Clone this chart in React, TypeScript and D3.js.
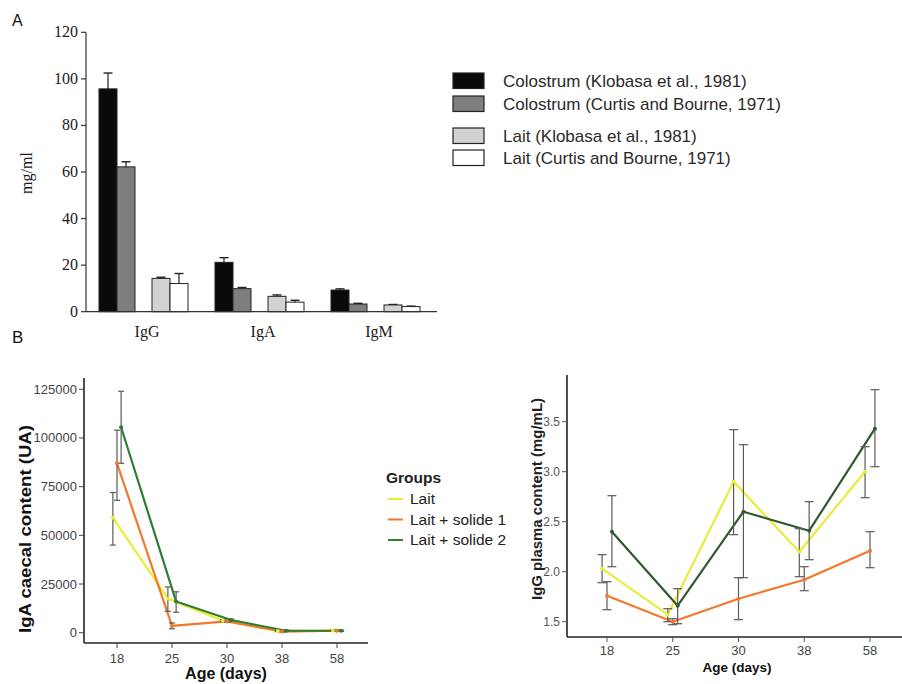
import React from "react";
import * as d3 from "d3";

// ---------- Panel A data ----------
const igTypes = ["IgG", "IgA", "IgM"];
const sourceNames = [
  "Colostrum (Klobasa et al., 1981)",
  "Colostrum (Curtis and Bourne, 1971)",
  "Lait (Klobasa et al., 1981)",
  "Lait (Curtis and Bourne, 1971)",
];
const colostrumKlobasa = [95.7, 21.2, 9.3];
const colostrumKlobasaUpper = [102.5, 23.2, 9.8];
const colostrumCurtis = [62.2, 9.9, 3.3];
const colostrumCurtisUpper = [64.4, 10.4, 3.6];
const laitKlobasa = [14.3, 6.6, 2.9];
const laitKlobasaUpper = [14.8, 7.2, 3.1];
const laitCurtis = [12.1, 4.1, 2.2];
const laitCurtisUpper = [16.4, 4.9, 2.4];
const yTicksA = [0, 20, 40, 60, 80, 100, 120];

// ---------- Panel B data ----------
const ages = ["18", "25", "30", "38", "58"];
const groupNames = ["Lait", "Lait + solide 1", "Lait + solide 2"];

const igaLait = [59000, 17500, 6200, 900, 1000];
const igaLaitLow = [45000, 11000, 5700, 600, 700];
const igaLaitHigh = [72000, 23500, 6700, 1200, 1300];
const igaSolide1 = [87000, 3500, 5800, 600, 1000];
const igaSolide1Low = [68000, 2000, 5300, 300, 700];
const igaSolide1High = [104000, 5000, 6300, 900, 1300];
const igaSolide2 = [105500, 16000, 6500, 1000, 1000];
const igaSolide2Low = [87000, 10500, 6000, 700, 700];
const igaSolide2High = [124000, 21000, 7000, 1300, 1300];
const yTicksIgA = [0, 25000, 50000, 75000, 100000, 125000];

const iggLait = [2.03, 1.57, 2.9, 2.2, 3.0];
const iggLaitLow = [1.89, 1.5, 2.37, 1.95, 2.74];
const iggLaitHigh = [2.17, 1.63, 3.42, 2.43, 3.25];
const iggSolide1 = [1.76, 1.5, 1.73, 1.92, 2.21];
const iggSolide1Low = [1.62, 1.47, 1.52, 1.81, 2.04];
const iggSolide1High = [1.9, 1.53, 1.94, 2.05, 2.4];
const iggSolide2 = [2.4, 1.66, 2.6, 2.41, 3.43];
const iggSolide2Low = [2.05, 1.48, 1.94, 2.12, 3.05];
const iggSolide2High = [2.76, 1.83, 3.27, 2.7, 3.82];
const yTicksIgG = [1.5, 2.0, 2.5, 3.0, 3.5];

const SANS = "'Liberation Sans', Arial, sans-serif";
const SERIF = "'Liberation Serif', 'Times New Roman', serif";

const barFills = ["#0a0a0a", "#7e7e7e", "#d2d2d2", "#ffffff"];
const lineColorsL = ["#ecec34", "#f2792c", "#2e7d32"];
const lineColorsR = ["#e8ec3a", "#f2792c", "#2f5a30"];

export default function App() {
  // ---------- Panel A ----------
  const yA = d3.scaleLinear().domain([0, 120]).range([311.7, 32.3]);
  const xA = d3.scaleBand<string>().domain(igTypes).range([99, 447]);
  const xPair = d3
    .scaleBand<string>()
    .domain(["Colostrum", "Lait"])
    .range([0, 89])
    .paddingInner(0.321);
  const xSrc = d3
    .scaleBand<string>()
    .domain(["Klobasa", "Curtis"])
    .range([0, xPair.bandwidth()]);

  const barSeries = [
    { values: colostrumKlobasa, upper: colostrumKlobasaUpper, pair: "Colostrum", src: "Klobasa" },
    { values: colostrumCurtis, upper: colostrumCurtisUpper, pair: "Colostrum", src: "Curtis" },
    { values: laitKlobasa, upper: laitKlobasaUpper, pair: "Lait", src: "Klobasa" },
    { values: laitCurtis, upper: laitCurtisUpper, pair: "Lait", src: "Curtis" },
  ];

  // ---------- Panel B left ----------
  const xL = d3.scalePoint<string>().domain(ages).range([117, 337]);
  const yL = d3.scaleLinear().domain([0, 125000]).range([632.7, 389.3]);
  const dodgeL = xL.step() * 0.075;
  const igaSeries = [
    { m: igaLait, lo: igaLaitLow, hi: igaLaitHigh },
    { m: igaSolide1, lo: igaSolide1Low, hi: igaSolide1High },
    { m: igaSolide2, lo: igaSolide2Low, hi: igaSolide2High },
  ];

  // ---------- Panel B right ----------
  const xR = d3.scalePoint<string>().domain(ages).range([607, 870]);
  const yR = d3.scaleLinear().domain([1.5, 3.5]).range([621.7, 421.7]);
  const dodgeR = xR.step() * 0.075;
  const iggSeries = [
    { m: iggLait, lo: iggLaitLow, hi: iggLaitHigh },
    { m: iggSolide1, lo: iggSolide1Low, hi: iggSolide1High },
    { m: iggSolide2, lo: iggSolide2Low, hi: iggSolide2High },
  ];

  const renderLinePanel = (
    series: { m: number[]; lo: number[]; hi: number[] }[],
    x: d3.ScalePoint<string>,
    y: d3.ScaleLinear<number, number>,
    dodge: number,
    colors: string[],
    cap: number
  ) => {
    const els: React.ReactNode[] = [];
    series.forEach((s, i) => {
      const off = (i - 1) * dodge;
      const line = d3
        .line<number>()
        .x((_, j) => (x(ages[j]) as number) + off)
        .y((d) => y(d));
      els.push(
        <path key={`l${i}`} d={line(s.m) || ""} fill="none" stroke={colors[i]} strokeWidth={2.2} strokeLinejoin="round" />
      );
    });
    series.forEach((s, i) => {
      const off = (i - 1) * dodge;
      s.m.forEach((_, j) => {
        const cx = (x(ages[j]) as number) + off;
        const y1 = y(s.lo[j]);
        const y2 = y(s.hi[j]);
        els.push(
          <g key={`e${i}-${j}`} stroke="#5a5a5a" strokeWidth={1.2}>
            <line x1={cx} x2={cx} y1={y1} y2={y2} />
            <line x1={cx - cap / 2} x2={cx + cap / 2} y1={y1} y2={y1} />
            <line x1={cx - cap / 2} x2={cx + cap / 2} y1={y2} y2={y2} />
          </g>
        );
      });
    });
    series.forEach((s, i) => {
      const off = (i - 1) * dodge;
      s.m.forEach((v, j) => {
        els.push(
          <circle key={`p${i}-${j}`} cx={(x(ages[j]) as number) + off} cy={y(v)} r={2} fill={colors[i]} />
        );
      });
    });
    return els;
  };

  return (
    <svg
      width={902}
      height={684}
      style={{ position: "absolute", left: 0, top: 0, background: "#fff" }}
    >
      <rect x={0} y={0} width={902} height={684} fill="#fff" />

      {/* ================= Panel A ================= */}
      <text x={12} y={26} fontFamily={SANS} fontSize={16} fill="#111">A</text>

      {/* y axis */}
      <line x1={86} x2={86} y1={yA(120)} y2={yA(0)} stroke="#333" strokeWidth={1.2} />
      {yTicksA.map((t) => (
        <g key={`ya${t}`}>
          <line x1={81} x2={86} y1={yA(t)} y2={yA(t)} stroke="#333" strokeWidth={1.2} />
          <text x={78} y={yA(t) + 5} textAnchor="end" fontFamily={SERIF} fontSize={16} fill="#1a1a1a">
            {t}
          </text>
        </g>
      ))}
      <text
        transform={`translate(32,173) rotate(-90)`}
        textAnchor="middle"
        fontFamily={SERIF}
        fontSize={16}
        fill="#1a1a1a"
      >
        mg/ml
      </text>

      {/* bars */}
      {barSeries.map((s, si) =>
        igTypes.map((g, gi) => {
          const bx = (xA(g) as number) + (xPair(s.pair) as number) + (xSrc(s.src) as number);
          const bw = xSrc.bandwidth();
          const cx = bx + bw / 2;
          return (
            <g key={`b${si}-${gi}`}>
              <line x1={cx} x2={cx} y1={yA(s.values[gi])} y2={yA(s.upper[gi])} stroke="#222" strokeWidth={1.2} />
              <line x1={cx - 4.5} x2={cx + 4.5} y1={yA(s.upper[gi])} y2={yA(s.upper[gi])} stroke="#222" strokeWidth={1.4} />
              <rect
                x={bx}
                y={yA(s.values[gi])}
                width={bw}
                height={yA(0) - yA(s.values[gi])}
                fill={barFills[si]}
                stroke="#222"
                strokeWidth={1}
              />
            </g>
          );
        })
      )}

      {/* x axis */}
      <line x1={86} x2={437} y1={yA(0)} y2={yA(0)} stroke="#333" strokeWidth={1.2} />
      {igTypes.map((g) => (
        <text
          key={`xa${g}`}
          x={(xA(g) as number) + 48}
          y={337}
          textAnchor="middle"
          fontFamily={SERIF}
          fontSize={16}
          fill="#1a1a1a"
        >
          {g}
        </text>
      ))}

      {/* legend A */}
      {sourceNames.map((n, i) => {
        const rowY = [73, 96, 128, 150][i];
        return (
          <g key={`la${i}`}>
            <rect x={453} y={rowY} width={31} height={15.5} fill={barFills[i]} stroke="#222" strokeWidth={1.2} />
            <text x={503} y={rowY + 14} fontFamily={SANS} fontSize={17} fill="#2a2a2a">
              {n}
            </text>
          </g>
        );
      })}

      {/* ================= Panel B ================= */}
      <text x={12} y={343} fontFamily={SANS} fontSize={17} fill="#111">B</text>

      {/* ---- left chart ---- */}
      <line x1={84} x2={84} y1={378} y2={643} stroke="#222" strokeWidth={1.6} />
      <line x1={84} x2={368} y1={643} y2={643} stroke="#222" strokeWidth={1.6} />
      {yTicksIgA.map((t) => (
        <g key={`yl${t}`}>
          <line x1={79} x2={84} y1={yL(t)} y2={yL(t)} stroke="#444" />
          <text x={77} y={yL(t) + 4.5} textAnchor="end" fontFamily={SANS} fontSize={13} fill="#444">
            {t}
          </text>
        </g>
      ))}
      {ages.map((a) => (
        <g key={`xl${a}`}>
          <line x1={xL(a)} x2={xL(a)} y1={643} y2={648} stroke="#444" />
          <text x={xL(a)} y={663} textAnchor="middle" fontFamily={SANS} fontSize={13} fill="#444">
            {a}
          </text>
        </g>
      ))}
      <text x={226} y={679} textAnchor="middle" fontFamily={SANS} fontSize={16} fontWeight="bold" fill="#111">
        Age (days)
      </text>
      <text
        transform={`translate(31,529) rotate(-90)`}
        textAnchor="middle"
        fontFamily={SANS}
        fontSize={16}
        fontWeight="bold"
        fill="#111"
        textLength={208}
        lengthAdjust="spacingAndGlyphs"
      >
        IgA caecal content (UA)
      </text>
      {renderLinePanel(igaSeries, xL, yL, dodgeL, lineColorsL, 6)}

      {/* legend B */}
      <text x={386} y={483} fontFamily={SANS} fontSize={15.5} fontWeight="bold" fill="#222">
        Groups
      </text>
      {groupNames.map((g, i) => (
        <g key={`lg${i}`}>
          <line x1={388} x2={403} y1={499 + i * 20.5} y2={499 + i * 20.5} stroke={lineColorsL[i]} strokeWidth={2} />
          <text x={410} y={504 + i * 20.5} fontFamily={SANS} fontSize={15.5} fill="#222">
            {g}
          </text>
        </g>
      ))}

      {/* ---- right chart ---- */}
      <line x1={567} x2={567} y1={375} y2={637} stroke="#222" strokeWidth={1.6} />
      <line x1={567} x2={902} y1={637} y2={637} stroke="#222" strokeWidth={1.6} />
      {yTicksIgG.map((t) => (
        <g key={`yr${t}`}>
          <line x1={562} x2={567} y1={yR(t)} y2={yR(t)} stroke="#555" />
          <text x={560} y={yR(t) + 4} textAnchor="end" fontFamily={SANS} fontSize={12} fill="#555">
            {d3.format(".1f")(t)}
          </text>
        </g>
      ))}
      {ages.map((a) => (
        <g key={`xr${a}`}>
          <line x1={xR(a)} x2={xR(a)} y1={637} y2={642} stroke="#555" />
          <text x={xR(a)} y={655} textAnchor="middle" fontFamily={SANS} fontSize={13} fill="#444">
            {a}
          </text>
        </g>
      ))}
      <text x={737} y={672} textAnchor="middle" fontFamily={SANS} fontSize={13.5} fontWeight="bold" fill="#111">
        Age (days)
      </text>
      <text
        transform={`translate(542,499) rotate(-90)`}
        textAnchor="middle"
        fontFamily={SANS}
        fontSize={15}
        fontWeight="bold"
        fill="#222"
        textLength={202}
        lengthAdjust="spacingAndGlyphs"
      >
        IgG plasma content (mg/mL)
      </text>
      {renderLinePanel(iggSeries, xR, yR, dodgeR, lineColorsR, 9)}
    </svg>
  );
}
